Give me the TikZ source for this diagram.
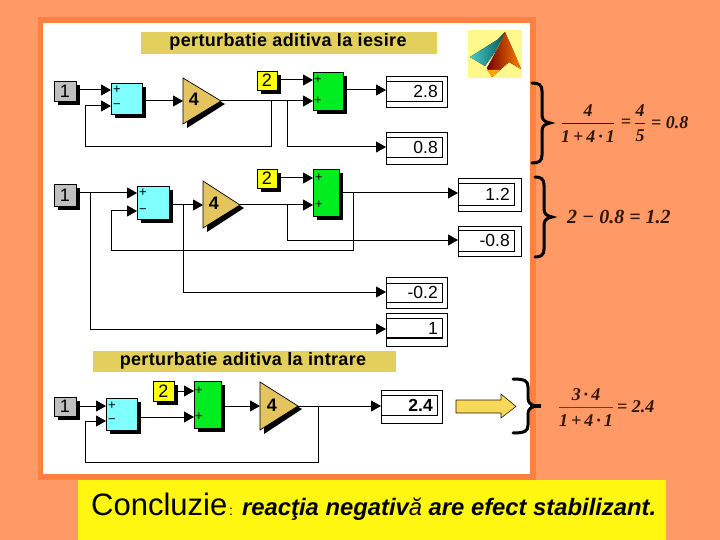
\documentclass[tikz,border=0pt]{standalone}
\usepackage{fontspec}
\setmainfont{Liberation Sans}
\newfontfamily\tnr{Liberation Serif}
\newfontfamily\titlefnt[LetterSpace=2]{Liberation Sans}
\usetikzlibrary{arrows.meta,calc}
\definecolor{bgor}{HTML}{FF9966}
\definecolor{frameor}{HTML}{FF8040}
\definecolor{titl}{HTML}{E3CF5C}
\definecolor{gainc}{HTML}{E3C45F}
\definecolor{cyanb}{HTML}{80FFFF}
\definecolor{greenb}{HTML}{00EE20}
\definecolor{yelb}{HTML}{FFFF10}
\definecolor{grayb}{HTML}{C0C0C0}
\definecolor{concl}{HTML}{FFF70F}
\definecolor{formc}{HTML}{33160A}
\definecolor{arrowy}{HTML}{F7D858}
\tikzset{
  conn/.style={black,line width=1pt},
  arr/.style={conn,-{Triangle[length=10pt,width=11pt]}},
  blockbase/.style={draw=black,line width=0.7pt,inner sep=0pt,outer sep=0pt,anchor=north west},
  sumb/.style={blockbase,fill=cyanb},
  addb/.style={blockbase,fill=greenb},
  srcb/.style={blockbase,fill=grayb,font=\fontsize{18}{18}\selectfont},
  constb/.style={blockbase,fill=yelb,font=\fontsize{18}{18}\selectfont},
  gaintxt/.style={font=\fontsize{18}{18}\selectfont\bfseries,inner sep=0pt},
  sign/.style={font=\fontsize{13}{13}\selectfont,inner sep=0pt},
  titlebar/.style={fill=titl,inner sep=0pt,outer sep=0pt,anchor=north west},
  ttxt/.style={font=\titlefnt\fontsize{18}{18}\selectfont\bfseries,inner sep=0pt},
  disptxt/.style={font=\fontsize{17.5}{18}\selectfont,inner sep=0pt,anchor=east},
  ftxt/.style={font=\tnr\fontsize{18}{18}\selectfont\bfseries\itshape,text=formc,inner sep=0pt},
  brc/.style={black,line width=3pt,line cap=round},
}
\newcommand{\blk}[7]{%
  \pgfmathsetmacro\bw{#5-#3}\pgfmathsetmacro\bh{#6-#4}%
  \fill[black] (#3+4,#4+4) rectangle (#5+4,#6+4);
  \node[#2,minimum width=\bw pt,minimum height=\bh pt] (#1) at (#3,#4) {#7};}
\newcommand{\gainb}[6]{% name,leftx,top,bottom,tipx,tipy
  \fill[black] (#2+4,#3+5) -- (#5+4,#6+3) -- (#2+4,#4+4) -- cycle;
  \draw[fill=gainc,line width=0.7pt] (#2,#3) -- (#5,#6) -- (#2,#4) -- cycle;
  \coordinate (#1w) at (#2,#6);
  \coordinate (#1e) at (#5,#6);}
\newcommand{\dispb}[9]{% name,x1,y1,x2,y2,ix2,iy1,iy2,text
  \pgfmathsetmacro\bw{#4-#2}\pgfmathsetmacro\bh{#5-#3}%
  \node[draw=black,line width=0.7pt,fill=white,inner sep=0pt,outer sep=0pt,anchor=north west,minimum width=\bw pt,minimum height=\bh pt] (#1) at (#2,#3) {};
  \draw[line width=0.7pt] (#2,#7) rectangle (#6,#8);
  \node[disptxt] (#1t) at ($(#6,#7)!0.5!(#6,#8)+(-4,0)$) {#9};}
\newcommand{\mybrc}[6]{% x1,spine,tip,top,mid,bot
  \draw[brc] (#1,#4) .. controls (#2-3,#4) and (#2,#4+2) .. (#2,#4+8)
   -- (#2,#5-8) .. controls (#2,#5-3) and (#3-5,#5-1) .. (#3,#5)
   .. controls (#3-5,#5+1) and (#2,#5+3) .. (#2,#5+8)
   -- (#2,#6-8) .. controls (#2,#6-2) and (#2-3,#6) .. (#1,#6);}
\begin{document}
\begin{tikzpicture}[x=1pt,y=-1pt]
\useasboundingbox (0,0) rectangle (720,540);
\fill[bgor] (0,0) rectangle (720,540);
\fill[frameor] (38,17) rectangle (536,480);
\fill[white] (43,23) rectangle (530,474);
% titles
\node[titlebar,minimum width=296pt,minimum height=22pt] (t1) at (141,32) {};
\node[ttxt] (t1t) at (288,42) {perturbatie aditiva la iesire};
\node[titlebar,minimum width=303pt,minimum height=21pt] (t2) at (93,351) {};
\node[ttxt] (t2t) at (243,360.5) {perturbatie aditiva la intrare};
% logo
\fill[yellow!45!white] (468,30) rectangle (522,78);
\fill[left color=teal!60!cyan!70!white,right color=teal!70!black] (470,57) -- (497,40) -- (505,32) -- (495,52) -- (485,66) -- cycle;
\fill[left color=red!45!black,right color=orange] (505,32) -- (499,46) -- (487,68) -- (492,77) -- (509,62) -- (521,69) -- (513,50) -- cycle;
\fill[orange!70!yellow] (487,70) -- (492,77) -- (500,70) -- cycle;
% row 1
\blk{a1}{srcb}{54}{81}{76}{101}{1}
\blk{s1}{sumb}{111}{83}{142}{114}{}
\node[sign] (s1a) at (117,90) {+};
\node[sign] (s1b) at (117,106) {−};
\gainb{g1}{183}{78}{124}{221}{101}
\node[gaintxt] (g1t) at (194,99) {4};
\blk{c1}{constb}{257}{71}{277}{90}{2}
\blk{m1}{addb}{313}{72}{343}{110}{}
\node[sign] (m1a) at (318,80) {+};
\node[sign] (m1b) at (318,101) {+};
\dispb{d1}{386}{76}{447}{107}{442}{81}{101}{2.8}
\dispb{d2}{386}{132}{447}{164}{442}{137}{157}{0.8}
\coordinate (p1a) at (111,90);
\coordinate (p1b) at (111,106);
\coordinate (q1a) at (313,80);
\coordinate (q1b) at (313,101);
\coordinate (r1) at (386,90);
\coordinate (r2) at (386,147);
\coordinate (k1) at (271,101);
\coordinate (k2) at (287,101);
\draw[arr] (a1.east|-p1a) -- (p1a);
\draw[arr] (s1.east|-g1w) -- (g1w);
\draw[arr] (c1.east|-q1a) -- (q1a);
\draw[arr] (g1e) -- (q1b);
\draw[arr] (m1.east|-r1) -- (r1);
\draw[arr] (k2) |- (r2);
\draw[arr] (k1) -- (271,147) -- (85,147) -- (85,106) -- (p1b);
% row 2
\blk{a2}{srcb}{54}{184}{76}{206}{1}
\blk{s2}{sumb}{137}{186}{169}{219}{}
\node[sign] (s2a) at (143,193) {+};
\node[sign] (s2b) at (143,211) {−};
\gainb{g2}{203}{181}{228}{240}{205}
\node[gaintxt] (g2t) at (214,203) {4};
\blk{c2}{constb}{257}{169}{277}{188}{2}
\blk{m2}{addb}{313}{169}{339}{216}{}
\node[sign] (m2a) at (319,178) {+};
\node[sign] (m2b) at (319,205) {+};
\dispb{d3}{458}{178}{521}{211}{514}{183}{205}{1.2}
\dispb{d4}{458}{226}{521}{256}{514}{230}{251}{-0.8}
\dispb{d5}{386}{277}{447}{308}{442}{283}{302}{-0.2}
\dispb{d6}{386}{313}{447}{346}{442}{318}{338}{1}
\draw[line width=1.5pt] (386,338) -- (442,338);
\coordinate (p2a) at (137,193);
\coordinate (p2b) at (137,211);
\coordinate (q2a) at (313,178);
\coordinate (q2b) at (313,205);
\coordinate (r3) at (458,193);
\coordinate (r4) at (458,240);
\coordinate (r5) at (386,292);
\coordinate (r6) at (386,329);
\coordinate (k3) at (90,193);
\coordinate (k4) at (183,205);
\coordinate (k5) at (287,205);
\coordinate (k6) at (353,193);
\draw[arr] (a2.east|-p2a) -- (p2a);
\draw[arr] (s2.east|-g2w) -- (g2w);
\draw[arr] (c2.east|-q2a) -- (q2a);
\draw[arr] (g2e) -- (q2b);
\draw[arr] (m2.east|-r3) -- (r3);
\draw[arr] (k5) |- (r4);
\draw[arr] (k6) -- (353,250) -- (111,250) -- (111,211) -- (p2b);
\draw[arr] (k4) |- (r5);
\draw[arr] (k3) |- (r6);
% row 3
\blk{a3}{srcb}{54}{397}{76}{416}{1}
\blk{s3}{sumb}{106}{398}{137}{430}{}
\node[sign] (s3a) at (112,406) {+};
\node[sign] (s3b) at (112,421) {−};
\blk{c3}{constb}{153}{381}{174}{401}{2}
\blk{m3}{addb}{194}{381}{221}{428}{}
\node[sign] (m3a) at (199,391) {+};
\node[sign] (m3b) at (199,417) {+};
\gainb{g3}{260}{382}{430}{298}{406}
\node[gaintxt] (g3t) at (272,405) {4};
\dispb{d7}{381}{390}{442}{423}{437}{395}{415}{\bfseries 2.4}
\coordinate (p3a) at (106,406);
\coordinate (p3b) at (106,421);
\coordinate (q3a) at (194,391);
\coordinate (q3b) at (194,417);
\coordinate (r7) at (381,406);
\coordinate (k7) at (318,406);
\draw[arr] (a3.east|-p3a) -- (p3a);
\draw[arr] (s3.east|-q3b) -- (q3b);
\draw[arr] (c3.east|-q3a) -- (q3a);
\draw[arr] (m3.east|-g3w) -- (g3w);
\draw[arr] (g3e) -- (r7);
\draw[arr] (k7) -- (318,462) -- (85,462) -- (85,421) -- (p3b);
% yellow arrow
\draw[fill=arrowy,line width=0.6pt,draw=black!80!brown] (456,400) -- (501,400) -- (501,394) -- (516,406.5) -- (501,418) -- (501,413) -- (456,413) -- cycle;
% braces
\mybrc{532}{542}{550}{83}{123}{163}
\mybrc{535}{544}{552}{177}{217}{257}
\mybrc{513}{528}{536}{379}{406}{433}
\draw[black,line width=3.5pt] (530,406) -- (541,406);
% formulas
\node[ftxt] (f1a) at (588,111) {4};
\node[ftxt] (f1b) at (588,137) {1\,+\,4\,·\,1};
\draw[formc,line width=0.6pt] (562,123) -- (614,123);
\node[ftxt] (f1c) at (626,123) {=};
\node[ftxt] (f1d) at (640,111) {4};
\node[ftxt] (f1e) at (640,136) {5};
\draw[formc,line width=0.6pt] (635,123) -- (645,123);
\node[ftxt,anchor=west] (f1f) at (651,123) {= 0.8};
\node[ftxt,font=\tnr\fontsize{20}{20}\selectfont\bfseries\itshape,anchor=west] (f2) at (567,217) {2 − 0.8 = 1.2};
\node[ftxt] (f3a) at (586,395) {3\,·\,4};
\node[ftxt] (f3b) at (586,421) {1\,+\,4\,·\,1};
\draw[formc!70!bgor,line width=0.6pt] (559,407) -- (613,407);
\node[ftxt,anchor=west] (f3c) at (617,407) {= 2.4};
% conclusion
\fill[concl] (78,480) rectangle (666,540);
\node[anchor=base west,inner sep=0pt,font=\fontsize{31}{31}\selectfont] (cc1) at (91,515) {Concluzie};
\node[anchor=base west,inner sep=0pt,font=\fontsize{14}{14}\selectfont] (cc2) at (229,515) {:};
\node[anchor=base west,inner sep=0pt,font=\fontsize{23.8}{24}\selectfont\itshape\bfseries] (cc3) at (242,515) {reacţia negativ\textmd{ă} are efect stabilizant.};
\end{tikzpicture}
\end{document}
